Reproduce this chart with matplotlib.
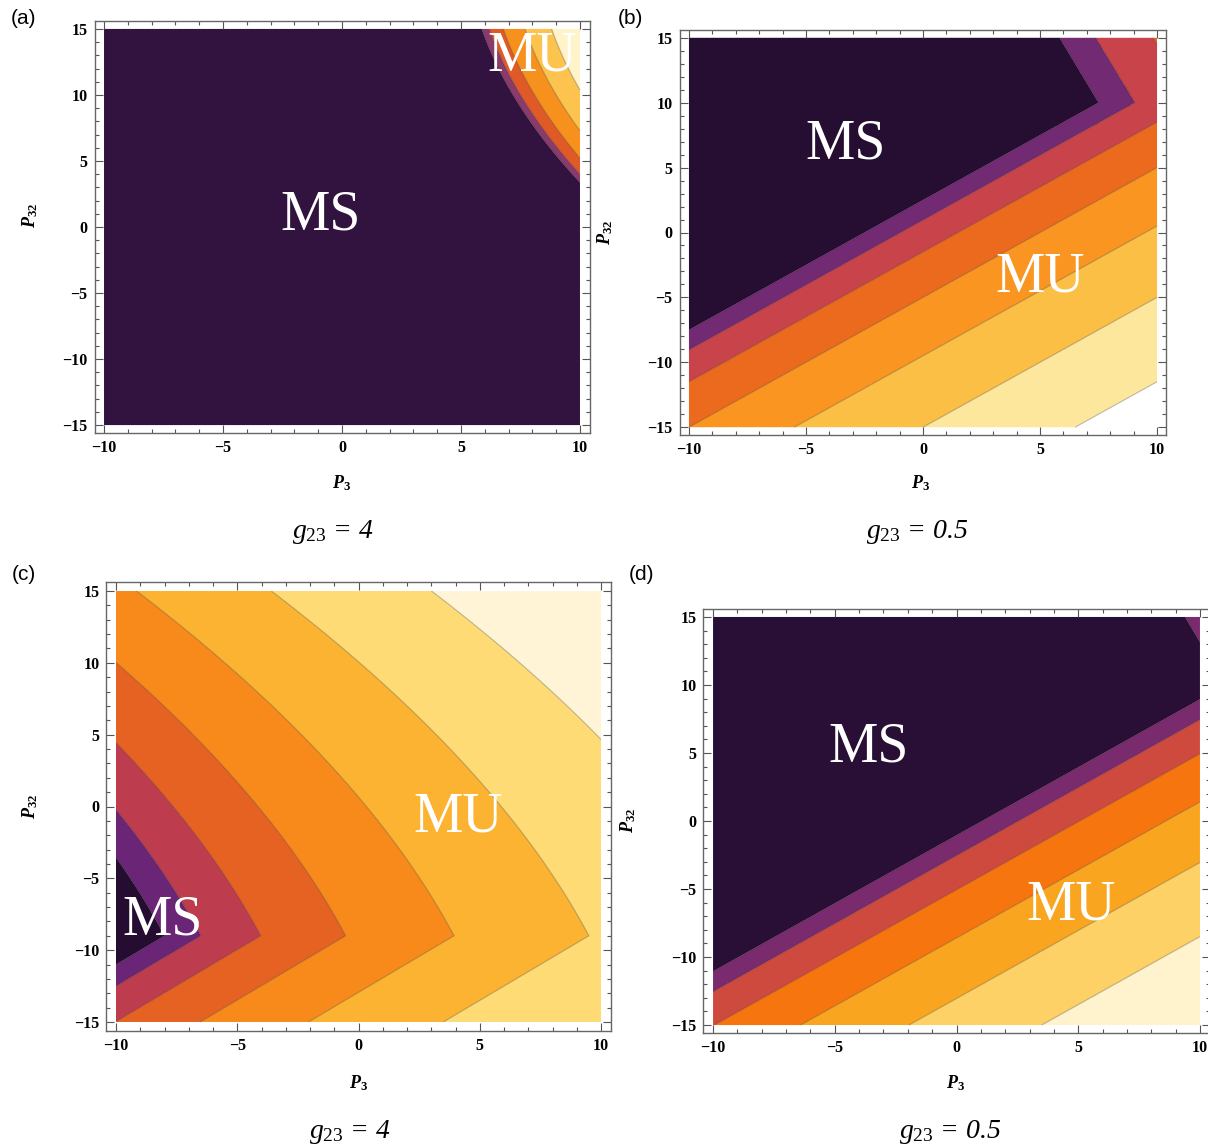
import numpy as np
import matplotlib.pyplot as plt

plt.rcParams['mathtext.fontset'] = 'custom'
plt.rcParams['mathtext.rm'] = 'Liberation Serif'
plt.rcParams['mathtext.it'] = 'Liberation Serif:italic'
plt.rcParams['mathtext.bf'] = 'Liberation Serif:bold'
plt.rcParams['mathtext.bfit'] = 'Liberation Serif:italic:bold'

# ---- data ----
x_ticks = [-10, -5, 0, 5, 10]
x_tick_labels = ['\u221210', '\u22125', '0', '5', '10']
y_ticks = [-15, -10, -5, 0, 5, 10, 15]
y_tick_labels = ['\u221215', '\u221210', '\u22125', '0', '5', '10', '15']

# (a) curved boundaries near the top-right corner: x where each one meets P32 = 15
a_levels = [5.87, 6.19, 6.78, 7.69, 8.81]
a_bend = [0.193, 0.0139]          # x shift per unit (15 - P32), and its square term
a_colors = ['#32133f', '#8b3a6c', '#e05a27', '#f7911d', '#fcc34f', '#fff3c9']

# (b) and (d) straight bands (slope 1) kinking at P32 = 10, slope -3 above
kink_y = 10.0
upper_slope = 3.0
b_levels = [-2.5, -0.95, 1.5, 5.0, 9.5, 15.0, 21.5]   # x where each band edge meets P32 = 0
b_colors = ['#260e33', '#722a72', '#c8444a', '#ec6a1d', '#f99520',
            '#fcbf46', '#fde79c', '#ffffff']
d_levels = [1.05, 2.55, 5.06, 8.6, 13.05, 18.5]
d_colors = ['#290f35', '#7a2b6d', '#cf4a3e', '#f7750f', '#faa520',
            '#fdd165', '#fef3cc']

# (c) chevrons with tip at P32 = -9: x of each tip
c_vertex_y = -9.0
c_levels = [-8.0, -6.5, -4.03, -0.53, 3.94, 9.5, 16.1]
c_bend = [0.315, 0.0096]          # upper arm: x shift per unit above tip, and square term
c_colors = ['#240d30', '#6b2577', '#bd3d4e', '#e56223', '#f78a1a',
            '#fcb331', '#fedb75', '#fff5d6']

W, H = 1208, 1147
fig = plt.figure(figsize=(W / 100, H / 100), dpi=100)


def field_a(X, Y):
    d = 15 - Y
    return X - a_bend[0] * d - a_bend[1] * d ** 2


def field_bd(X, Y):
    return np.where(Y <= kink_y, X - Y, X + (Y - kink_y) / upper_slope - kink_y)


def field_c(X, Y):
    d = Y - c_vertex_y
    return np.where(d < 0, X - d, X + c_bend[0] * d + c_bend[1] * d ** 2)


def ftext(xp, yp, s, **kw):
    fig.text(xp / W, 1 - yp / H, s, **kw)


# frame (left, top, right, bottom) in pixels, panel letter, label positions
panels = [
    dict(frame=(94.5, 21, 589.5, 433), field=field_a, levels=a_levels, colors=a_colors,
         tag='(a)', tag_xy=(24, 18), xl=(342, 483), yl=(30, 215), cap=(333, 532),
         g='4', ms=(-0.9, 0.9), mu=(8.0, 12.9)),
    dict(frame=(679.6, 30, 1166.4, 435), field=field_bd, levels=b_levels, colors=b_colors,
         tag='(b)', tag_xy=(630, 18), xl=(921, 483), yl=(605, 232), cap=(917, 532),
         g='0.5', ms=(-3.3, 6.8), mu=(5.0, -3.5)),
    dict(frame=(106.3, 582.4, 610.7, 1030.6), field=field_c, levels=c_levels, colors=c_colors,
         tag='(c)', tag_xy=(24, 575), xl=(359, 1083), yl=(30, 806), cap=(350, 1132),
         g='4', ms=(-8.07, -7.96), mu=(4.1, -0.8)),
    dict(frame=(703.3, 608.8, 1209.7, 1033.2), field=field_bd, levels=d_levels, colors=d_colors,
         tag='(d)', tag_xy=(641, 575), xl=(956, 1083), yl=(628, 820), cap=(950, 1132),
         g='0.5', ms=(-3.6, 5.4), mu=(4.7, -6.2)),
]

xs = np.linspace(-10, 10, 801)
ys = np.linspace(-15, 15, 1201)
X, Y = np.meshgrid(xs, ys)

for p in panels:
    l, t, r, b = p['frame']
    ax = fig.add_axes([l / W, 1 - b / H, (r - l) / W, (b - t) / H])
    F = p['field'](X, Y)
    lv = [F.min() - 1] + list(p['levels']) + [F.max() + 1]
    ax.contourf(X, Y, F, levels=lv, colors=p['colors'], antialiased=True)
    ax.contour(X, Y, F, levels=p['levels'], colors=[(0, 0, 0, 0.25)], linewidths=0.8,
               linestyles='solid', negative_linestyles='solid')

    ax.set_xlim(-10.4, 10.4)
    ax.set_ylim(-15.6, 15.6)
    ax.set_xticks(x_ticks)
    ax.set_xticklabels(x_tick_labels)
    ax.set_yticks(y_ticks)
    ax.set_yticklabels(y_tick_labels)
    ax.set_xticks(np.arange(-10, 11, 1), minor=True)
    ax.set_yticks(np.arange(-15, 16, 1), minor=True)
    ax.tick_params(which='both', direction='in', top=True, right=True, color='#555555', width=0.8)
    ax.tick_params(which='major', length=6, pad=5)
    ax.tick_params(which='minor', length=3)
    for lbl in ax.get_xticklabels() + ax.get_yticklabels():
        lbl.set_fontfamily('Liberation Serif')
        lbl.set_fontweight('bold')
        lbl.set_fontsize(11.5)
    for s in ax.spines.values():
        s.set_color('#666666')
        s.set_linewidth(1.0)

    ax.text(p['ms'][0], p['ms'][1], 'MS', color='white', fontsize=40,
            family='Liberation Serif', ha='center', va='center', clip_on=False)
    ax.text(p['mu'][0], p['mu'][1], 'MU', color='white', fontsize=40,
            family='Liberation Serif', ha='center', va='center', clip_on=False)

    ftext(*p['tag_xy'], p['tag'], fontsize=15, family='Liberation Sans', ha='center', va='center')
    ftext(*p['xl'], r'$\mathbfit{P}_{\mathbf{3}}$', fontsize=13, ha='center', va='center')
    ftext(*p['yl'], r'$\mathbfit{P}_{\mathbf{32}}$', fontsize=13, ha='center', va='center',
          rotation=90)
    ftext(*p['cap'], r'$g_{23}$ = ' + p['g'], fontsize=20, family='Liberation Serif',
          style='italic', ha='center', va='center')

fig.savefig('out.png', dpi=100)
